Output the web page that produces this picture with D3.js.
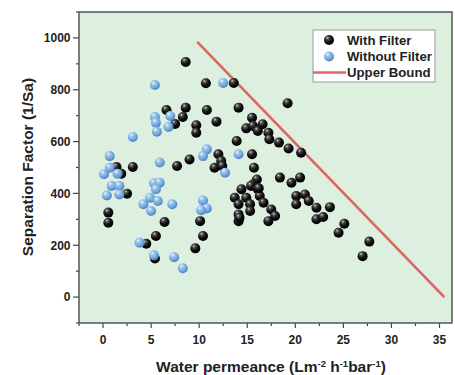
<!DOCTYPE html>
<html><head><meta charset="utf-8">
<script src="https://cdn.jsdelivr.net/npm/d3@7"></script>
<style>body{margin:0;background:#fff}svg{display:block}text{font-family:"Liberation Sans",Arial,sans-serif;font-weight:bold;fill:#222}</style>
</head><body>
<script>
const withFilterX = [8.6,10.7,13.6,8.6,6.6,10.8,14.1,8.3,7.5,11.8,9.7,9.7,15.5,14.9,15.6,16.6,16.1,17.2,17.3,18.3,19.3,20.6,19.2,13.9,15.5,12.0,9.0,12.3,11.6,12.4,1.4,1.9,3.1,2.5,0.55,0.55,7.7,15.7,16.0,10.1,10.4,9.6,5.5,4.5,5.4,6.4,13.7,14.4,14.9,14.1,14.1,14.1,15.3,15.3,15.6,18.4,19.6,20.5,15.4,16.1,16.3,16.7,14.2,17.5,17.9,17.2,20.1,21.0,20.1,21.4,22.2,23.6,22.2,22.9,25.1,24.5,27.7,27.0,16.2];
const withFilterY = [907,825,826,731,722,722,731,695,668,677,663,634,692,651,660,667,641,634,609,596,573,557,748,602,551,551,531,525,499,506,502,476,502,399,326,287,506,499,454,293,236,188,236,206,149,290,383,416,383,358,319,293,358,332,435,461,441,461,429,416,390,364,306,338,313,293,390,396,358,371,345,347,300,309,283,248,214,158,420];
const withoutFilterX = [12.5,5.4,5.4,5.5,5.6,7.0,6.8,3.1,0.7,10.8,10.4,14.1,0.1,0.7,1.5,0.9,1.7,0.4,1.7,5.9,5.3,5.9,5.5,4.9,4.2,5.7,5.0,7.2,12.7,10.4,10.8,10.2,3.8,5.3,7.4,8.3];
const withoutFilterY = [826,818,695,673,638,699,656,618,544,570,544,551,474,499,476,429,429,392,396,519,439,441,416,383,358,371,332,358,480,373,342,335,210,161,154,111];
const upperBoundX = [9.8, 35.5];
const upperBoundY = [985, 0];
const xTicks = [0,5,10,15,20,25,30,35];
const yTicks = [0,200,400,600,800,1000];
const legendLabels = ["With Filter","Without Filter","Upper Bound"];

const W=455,H=375;
const svg=d3.select("body").append("svg").attr("width",W).attr("height",H);
const L=79,R=452,T=12,B=323;
const x=d3.scaleLinear().domain([-2.5,36.3]).range([L,R]);
const y=d3.scaleLinear().domain([-100,1100]).range([B,T]);

const defs=svg.append("defs");
function grad(id,stops){const g=defs.append("radialGradient").attr("id",id).attr("cx","38%").attr("cy","32%").attr("r","65%").attr("fx","35%").attr("fy","28%");
 stops.forEach(s=>g.append("stop").attr("offset",s[0]).attr("stop-color",s[1]));}
grad("gBlack",[["0%","#d8d8d8"],["22%","#555"],["60%","#111"],["100%","#000"]]);
grad("gBlue",[["0%","#eef6ff"],["30%","#9cc6ee"],["75%","#6fa3d8"],["100%","#4f87c2"]]);

svg.append("rect").attr("x",L).attr("y",T).attr("width",R-L).attr("height",B-T).attr("fill","#ddefdf");

// axes
const xMinor=d3.range(-2.5,36.3,2.5);
svg.append("g").selectAll("line").data(xMinor).join("line")
 .attr("x1",d=>x(d)).attr("x2",d=>x(d)).attr("y1",B).attr("y2",d=>B+(d%5===0?5:3)).attr("stroke","#444").attr("stroke-width",1.2);
svg.append("g").selectAll("text").data(xTicks).join("text")
 .attr("x",d=>x(d)).attr("y",B+20.5).attr("text-anchor","middle").attr("font-size",12).text(d=>d);
const yMinor=d3.range(-100,1101,100);
svg.append("g").selectAll("line").data(yMinor).join("line")
 .attr("y1",d=>y(d)).attr("y2",d=>y(d)).attr("x1",L).attr("x2",d=>L-(d%200===0?6:3)).attr("stroke","#444").attr("stroke-width",1.2);
svg.append("g").selectAll("text").data(yTicks).join("text")
 .attr("x",L-8.5).attr("y",d=>y(d)+4.3).attr("text-anchor","end").attr("font-size",12).text(d=>d);

svg.append("rect").attr("x",L).attr("y",T).attr("width",R-L).attr("height",B-T).attr("fill","none").attr("stroke","#555").attr("stroke-width",1.5);

// upper bound line
const ub=upperBoundX.map((v,i)=>[v,upperBoundY[i]]);
svg.append("path").datum(ub).attr("d",d3.line().x(d=>x(d[0])).y(d=>y(d[1])))
 .attr("stroke","#e06464").attr("stroke-width",2.6).attr("fill","none");

const r=5;
svg.append("g").selectAll("circle").data(withFilterX.map((v,i)=>[v,withFilterY[i]])).join("circle")
 .attr("cx",d=>x(d[0])).attr("cy",d=>y(d[1])).attr("r",r).attr("fill","url(#gBlack)");
svg.append("g").selectAll("circle").data(withoutFilterX.map((v,i)=>[v,withoutFilterY[i]])).join("circle")
 .attr("cx",d=>x(d[0])).attr("cy",d=>y(d[1])).attr("r",r).attr("fill","url(#gBlue)");

// legend
const lg=svg.append("g");
lg.append("rect").attr("x",313).attr("y",30).attr("width",122).attr("height",52).attr("fill","#fff").attr("stroke","#999").attr("stroke-width",1);
const ly=[40,56.5,72.5];
lg.append("circle").attr("cx",329).attr("cy",ly[0]).attr("r",r).attr("fill","url(#gBlack)");
lg.append("circle").attr("cx",329).attr("cy",ly[1]).attr("r",r).attr("fill","url(#gBlue)");
lg.append("line").attr("x1",313).attr("x2",346).attr("y1",ly[2]).attr("y2",ly[2]).attr("stroke","#e06464").attr("stroke-width",2.6);
lg.selectAll("text").data(legendLabels).join("text").attr("x",347).attr("y",(d,i)=>ly[i]+4.6).attr("font-size",13.2).text(d=>d);

// titles
const xt=svg.append("text").attr("x",271).attr("y",372).attr("text-anchor","middle").attr("font-size",15.5);
xt.append("tspan").text("Water permeance (Lm");
xt.append("tspan").attr("dy",-5.5).attr("font-size",9.5).text("-2");
xt.append("tspan").attr("dy",5.5).text(" h");
xt.append("tspan").attr("dy",-5.5).attr("font-size",9.5).text("-1");
xt.append("tspan").attr("dy",5.5).text("bar");
xt.append("tspan").attr("dy",-5.5).attr("font-size",9.5).text("-1");
xt.append("tspan").attr("dy",5.5).text(")");
svg.append("text").attr("transform","translate(33,167) rotate(-90)").attr("text-anchor","middle").attr("font-size",15.5).text("Separation Factor (1/Sa)");
</script>
</body></html>
